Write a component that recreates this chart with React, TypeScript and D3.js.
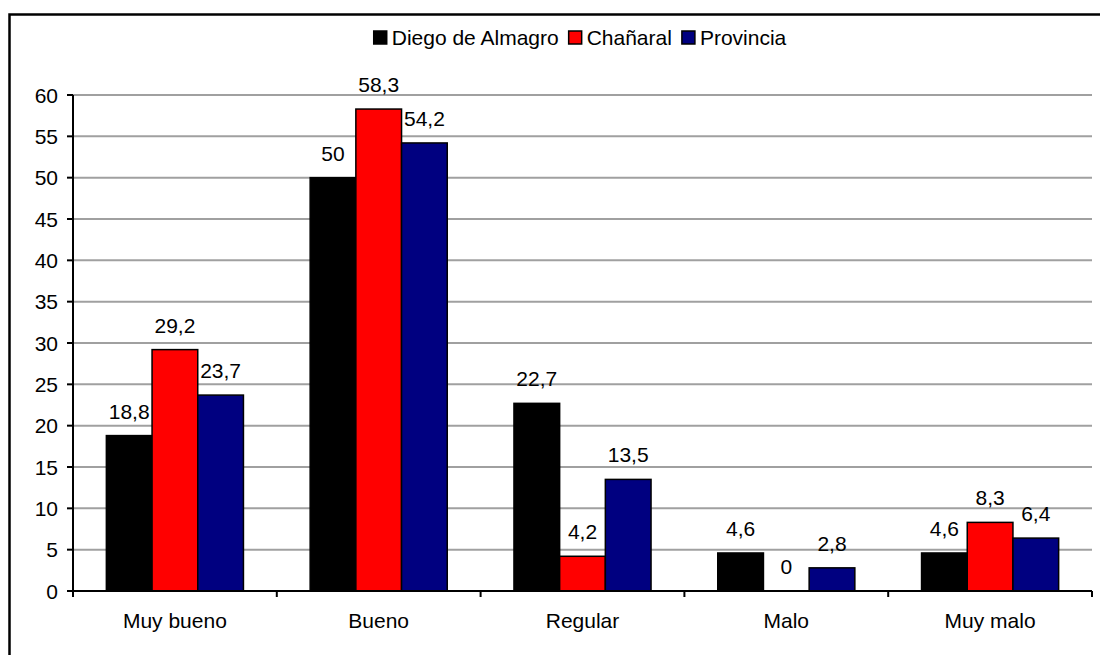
import { useEffect, useRef } from "react";
import * as d3 from "d3";

const CATEGORIES = ["Muy bueno", "Bueno", "Regular", "Malo", "Muy malo"];
const SERIES = ["Diego de Almagro", "Chañaral", "Provincia"];
const COLORS = ["#000000", "#ff0000", "#000080"];
const DIEGO = [18.8, 50, 22.7, 4.6, 4.6];
const CHANARAL = [29.2, 58.3, 4.2, 0, 8.3];
const PROVINCIA = [23.7, 54.2, 13.5, 2.8, 6.4];
const Y_TICKS = [0, 5, 10, 15, 20, 25, 30, 35, 40, 45, 50, 55, 60];

const fmt = (v: number) => String(v).replace(".", ",");

export default function App() {
  const svgRef = useRef<SVGSVGElement>(null);

  useEffect(() => {
    if (!svgRef.current) return;
    const width = 1100;
    const height = 655;
    const font = "Arial, 'Liberation Sans', sans-serif";
    const fontSize = 21;

    const svg = d3.select(svgRef.current);
    svg.selectAll("*").remove();

    const values = [DIEGO, CHANARAL, PROVINCIA];

    const x0 = d3.scaleBand<string>().domain(CATEGORIES).range([73, 1092]);
    const x1 = d3
      .scaleBand<string>()
      .domain(SERIES)
      .range([0, x0.bandwidth()])
      .paddingOuter(0.73);
    const y = d3.scaleLinear().domain([0, 60]).range([591, 95]);

    // outer frame
    svg
      .append("rect")
      .attr("x", 9.5)
      .attr("y", 14.5)
      .attr("width", width)
      .attr("height", height)
      .attr("fill", "none")
      .attr("stroke", "#000")
      .attr("stroke-width", 2.5);

    // gridlines
    Y_TICKS.filter((t) => t > 0).forEach((t) => {
      svg
        .append("line")
        .attr("x1", x0.range()[0])
        .attr("x2", x0.range()[1])
        .attr("y1", y(t))
        .attr("y2", y(t))
        .attr("stroke", "#a0a0a0")
        .attr("stroke-width", 2);
    });

    // bars
    values.forEach((vals, si) => {
      vals.forEach((v, ci) => {
        const bx = x0(CATEGORIES[ci])! + x1(SERIES[si])!;
        svg
          .append("rect")
          .attr("x", bx)
          .attr("y", y(v))
          .attr("width", x1.bandwidth())
          .attr("height", y(0) - y(v))
          .attr("fill", COLORS[si])
          .attr("stroke", "#000")
          .attr("stroke-width", 1.5);

        svg
          .append("text")
          .attr("x", bx + x1.bandwidth() / 2)
          .attr("y", y(v) - 17)
          .attr("text-anchor", "middle")
          .attr("font-family", font)
          .attr("font-size", fontSize)
          .attr("fill", "#000")
          .text(fmt(v));
      });
    });

    // y axis
    svg
      .append("line")
      .attr("x1", 73)
      .attr("x2", 73)
      .attr("y1", y(60))
      .attr("y2", y(0))
      .attr("stroke", "#000")
      .attr("stroke-width", 2);
    Y_TICKS.forEach((t) => {
      svg
        .append("line")
        .attr("x1", 67)
        .attr("x2", 73)
        .attr("y1", y(t))
        .attr("y2", y(t))
        .attr("stroke", "#000")
        .attr("stroke-width", 2);
      svg
        .append("text")
        .attr("x", 58)
        .attr("y", y(t) + 7.5)
        .attr("text-anchor", "end")
        .attr("font-family", font)
        .attr("font-size", fontSize)
        .attr("fill", "#000")
        .text(t);
    });

    // x axis
    svg
      .append("line")
      .attr("x1", 72)
      .attr("x2", 1092)
      .attr("y1", y(0))
      .attr("y2", y(0))
      .attr("stroke", "#000")
      .attr("stroke-width", 2);
    const bounds = CATEGORIES.map((c) => x0(c)!).concat([x0.range()[1]]);
    bounds.forEach((bx) => {
      svg
        .append("line")
        .attr("x1", bx)
        .attr("x2", bx)
        .attr("y1", y(0))
        .attr("y2", y(0) + 6)
        .attr("stroke", "#000")
        .attr("stroke-width", 2);
    });
    CATEGORIES.forEach((c) => {
      svg
        .append("text")
        .attr("x", x0(c)! + x0.bandwidth() / 2)
        .attr("y", 628)
        .attr("text-anchor", "middle")
        .attr("font-family", font)
        .attr("font-size", fontSize)
        .attr("fill", "#000")
        .text(c);
    });

    // legend
    const legend = svg.append("g");
    let lx = 0;
    SERIES.forEach((s, i) => {
      legend
        .append("rect")
        .attr("x", lx)
        .attr("y", 31)
        .attr("width", 13)
        .attr("height", 13)
        .attr("fill", COLORS[i])
        .attr("stroke", "#000")
        .attr("stroke-width", 1.5);
      const t = legend
        .append("text")
        .attr("x", lx + 18)
        .attr("y", 45)
        .attr("font-family", font)
        .attr("font-size", fontSize)
        .attr("fill", "#000")
        .text(s);
      const w = (t.node() as SVGTextElement).getComputedTextLength();
      lx += 18 + w + 10;
    });
    const legendW = lx - 10;
    legend.attr("transform", `translate(${580 - legendW / 2},0)`);
  }, []);

  return (
    <div style={{ position: "fixed", left: 0, top: 0, background: "#fff" }}>
      <svg ref={svgRef} width={1100} height={655} style={{ display: "block" }} />
    </div>
  );
}
